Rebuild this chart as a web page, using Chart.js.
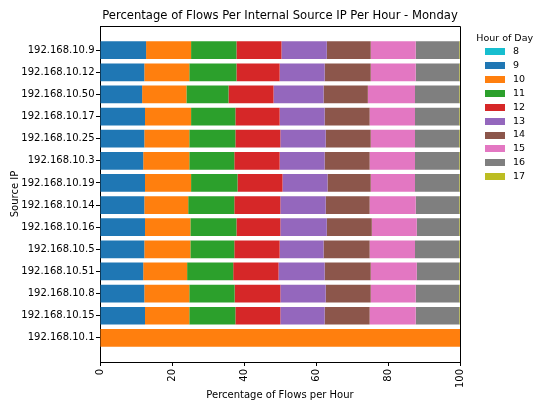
<!DOCTYPE html>
<html><head><meta charset="utf-8">
<script src="https://cdn.jsdelivr.net/npm/chart.js@4/dist/chart.umd.min.js"></script>
<style>html,body{margin:0;padding:0;background:#fff}canvas{display:block}</style>
</head><body>
<canvas id="c" width="533" height="403"></canvas>
<script>
const chartTitle = 'Percentage of Flows Per Internal Source IP Per Hour - Monday';
const xTitle = 'Percentage of Flows per Hour';
const yTitle = 'Source IP';
const legendTitle = 'Hour of Day';
const sourceIPs = ['192.168.10.9','192.168.10.12','192.168.10.50','192.168.10.17','192.168.10.25','192.168.10.3','192.168.10.19','192.168.10.14','192.168.10.16','192.168.10.5','192.168.10.51','192.168.10.8','192.168.10.15','192.168.10.1'];
const hours = ['8','9','10','11','12','13','14','15','16','17'];
const hourColors = ['#17becf','#1f77b4','#ff7f0e','#2ca02c','#d62728','#9467bd','#8c564b','#e377c2','#7f7f7f','#bcbd22'];
const h8  = [0,0,0,0,0,0,0,0,0,0,0,0,0,0];
const h9  = [12.8,12.3,11.7,12.5,12.3,12.0,12.5,12.3,12.5,12.3,12.0,12.3,12.5,0];
const h10 = [12.5,12.5,12.3,12.8,12.5,12.8,12.8,12.2,12.6,12.8,12.2,12.5,12.3,100];
const h11 = [12.6,13.1,11.7,12.3,12.8,12.5,12.9,12.8,12.8,12.2,12.8,12.6,12.8,0];
const h12 = [12.5,12.0,12.5,12.3,12.5,12.6,12.5,12.8,12.2,12.6,12.6,12.7,12.5,0];
const h13 = [12.6,12.5,13.9,12.5,12.6,12.5,12.5,12.6,12.9,12.2,12.8,12.6,12.3,0];
const h14 = [12.2,12.8,12.3,12.5,12.5,12.5,12.0,12.2,12.5,12.8,12.8,12.5,12.5,0];
const h15 = [12.5,12.5,13.1,12.6,12.3,12.6,12.3,12.8,12.5,12.6,12.8,12.5,12.8,0];
const h16 = [12.1,12.1,12.3,12.3,12.3,12.3,12.3,12.1,11.8,12.3,11.8,12.1,12.1,0];
const h17 = [0.2,0.2,0.2,0.2,0.2,0.2,0.2,0.2,0.2,0.2,0.2,0.2,0.2,0];
const xTicks = [0,20,40,60,80,100];

const series = [h8,h9,h10,h11,h12,h13,h14,h15,h16,h17];

Chart.defaults.font.family = '"DejaVu Sans", sans-serif';
Chart.defaults.font.size = 10;
Chart.defaults.color = '#000';

const frame = {
  id: 'frame',
  afterDatasetsDraw(chart) {
    const {ctx, chartArea: a} = chart;
    ctx.save();
    ctx.strokeStyle = '#000';
    ctx.lineWidth = 1;
    ctx.beginPath();
    ctx.moveTo(Math.round(a.left) + 0.5, Math.round(a.top) + 0.5);
    ctx.lineTo(Math.round(a.right) + 0.5, Math.round(a.top) + 0.5);
    ctx.lineTo(Math.round(a.right) + 0.5, Math.round(a.bottom) + 0.5);
    ctx.stroke();
    ctx.restore();
  }
};

const sideLegend = {
  id: 'sideLegend',
  afterDraw(chart) {
    const {ctx} = chart;
    ctx.save();
    ctx.font = '9.5px "DejaVu Sans", sans-serif';
    ctx.textBaseline = 'middle';
    ctx.fillStyle = '#000';
    ctx.textAlign = 'center';
    ctx.fillText(legendTitle, 504.7, 38.5);
    chart.data.datasets.forEach((ds, i) => {
      const y = 51.3 + i * 13.95;
      ctx.fillStyle = ds.backgroundColor;
      ctx.fillRect(485, Math.round(y - 3.5), 20, 7);
      ctx.fillStyle = '#000';
      ctx.textAlign = 'left';
      ctx.fillText(ds.label, 513, y);
    });
    ctx.restore();
  }
};

new Chart(document.getElementById('c'), {
  type: 'bar',
  data: {
    datasets: hours.map((h, k) => ({
      label: h,
      data: series[k].map((v, i) => ({x: v, y: i})),
      backgroundColor: hourColors[k],
      borderWidth: 0,
      barPercentage: 0.8,
      categoryPercentage: 1.0
    }))
  },
  options: {
    indexAxis: 'y',
    responsive: false,
    animation: false,
    devicePixelRatio: 1,
    layout: {padding: {top: 0, right: 73, bottom: 0, left: 0}},
    plugins: {
      legend: {display: false},
      tooltip: {enabled: false},
      title: {
        display: true, text: chartTitle, fullSize: false,
        font: {size: 11.6, weight: 'normal'}, color: '#000',
        padding: {top: 9.5, bottom: 2.6}
      }
    },
    scales: {
      x: {
        type: 'linear', stacked: true, min: 0, max: 100, offset: false,
        afterBuildTicks: s => { s.ticks = xTicks.map(v => ({value: v})); },
        afterFit: s => { s.height = 41; },
        ticks: {minRotation: 90, maxRotation: 90, padding: 3, color: '#000', font: {size: 10}},
        grid: {drawOnChartArea: false, drawTicks: true, tickLength: 4, color: '#000', offset: false},
        border: {display: true, color: '#000', width: 1},
        title: {display: true, text: xTitle, font: {size: 10}, color: '#000', padding: {top: 0, bottom: 2}}
      },
      y: {
        type: 'linear', stacked: true, reverse: true, min: -1.09, max: 14.09, offset: false,
        afterBuildTicks: s => { s.ticks = sourceIPs.map((_, i) => ({value: i})); },
        afterFit: s => { s.width = 100; },
        ticks: {callback: v => sourceIPs[v] ?? '', padding: 1.5, color: '#000', font: {size: 10}, autoSkip: false},
        grid: {drawOnChartArea: false, drawTicks: true, tickLength: 4, color: '#000', offset: false},
        border: {display: true, color: '#000', width: 1},
        title: {display: true, text: yTitle, font: {size: 10}, color: '#000', padding: {top: 9, bottom: 0}}
      }
    }
  },
  plugins: [frame, sideLegend]
});
</script>
</body></html>
